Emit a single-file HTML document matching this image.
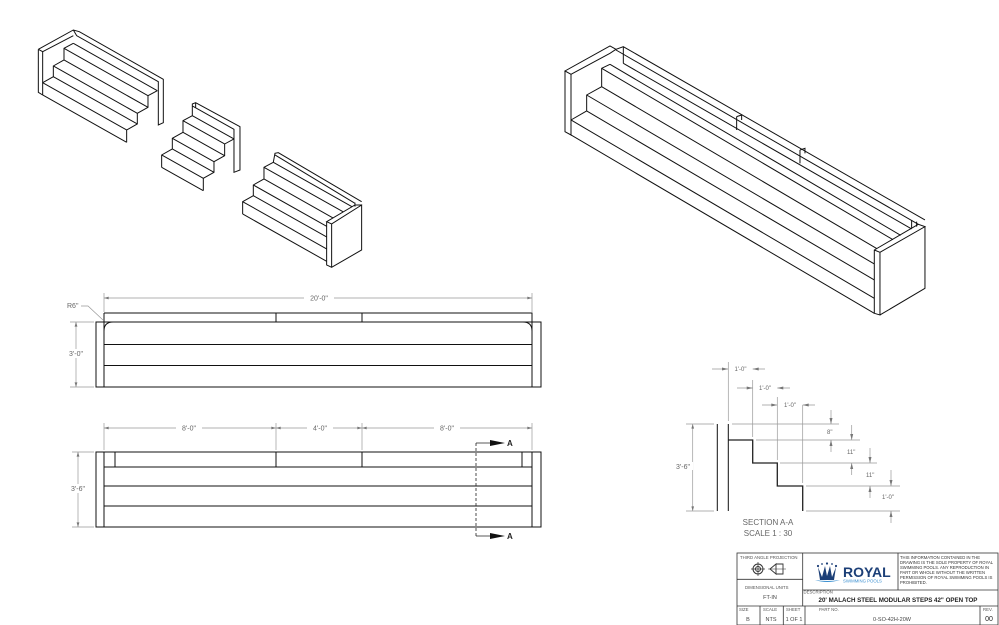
<!DOCTYPE html>
<html><head><meta charset="utf-8"><style>
html,body{margin:0;padding:0;background:#fff;}
svg{display:block;}
text{font-family:"Liberation Sans","DejaVu Sans",sans-serif;}
.o{stroke:#111;stroke-width:1;fill:none;vector-effect:non-scaling-stroke;}
.d{stroke:#999;stroke-width:0.7;fill:none;}
.t{fill:#666;font-size:7px;}
</style></head><body>
<svg width="999" height="625" viewBox="0 0 999 625" xmlns="http://www.w3.org/2000/svg">
<defs>
<marker id="ar" viewBox="0 0 10 6" refX="10" refY="3" markerWidth="8" markerHeight="4" orient="auto-start-reverse"><path d="M0,0L10,3L0,6z" fill="#777"/></marker>
</defs>
<rect width="999" height="625" fill="#fff"/>

<g transform="translate(30,20) scale(0.3333)">
<polyline class="o" points="38,225 38,188 70,170 70,138 102,120 102,85 130,70"/>
<polyline class="o" points="290,367 290,330 322,312 322,280 354,262 354,227 382,212"/>
<path class="o" d="M38,225L290,367M38,188L290,330M70,170L322,312M70,138L322,280M102,120L354,262M102,85L354,227M130,70L382,212"/>
<path class="o" d="M25,88L25,217L38,225M25,88L38,95L38,188M25,88L130,30L148,35L400,178L400,308L385,315L385,185L140,47L130,30M38,95L130,47"/>
<polyline class="o" points="395,442 395,405 427,387 427,355 459,337 459,302 487,287"/>
<polyline class="o" points="520,512 520,475 552,457 552,425 584,407 584,372 612,357"/>
<path class="o" d="M395,442L520,512M395,405L520,475M427,387L552,457M427,355L552,425M459,337L584,407M459,302L584,372M487,287L612,357"/>
<path class="o" d="M487,287L487,252L497,248L630,320L630,450L612,457L612,328L487,258M497,248L497,262"/>
<polyline class="o" points="638,582 638,545 670,527 670,495 702,477 702,442 730,427"/>
<path class="o" d="M638,582L890,724M638,545L890,687M670,527L890,651M670,495L890,619M702,477L909,594M702,442L939,575M730,427L966,560"/>
<path class="o" d="M730,427L735,400L745,398L995,545M735,405L975,550M890,605L890,735L905,742L995,690L995,555L905,612L890,605L975,555L995,555M905,612L905,742M975,548L975,560"/>
</g>

<g transform="translate(555,35) scale(0.3333)">
<path class="o" d="M30,108L30,290L48,300L48,118L30,108L165,33L183,43L205,35L1110,555M48,118L165,55L183,43M183,45L1090,568M205,35L205,85"/>
<polyline class="o" points="48,300 48,255 95,228 95,180 140,155 140,100 165,88"/>
<path class="o" d="M48,300L958,835M48,255L958,790M95,228L958,735M95,180L958,687M140,155L966,641M140,100L1014,614M165,88L1037,601M205,85L1070,582"/>
<path class="o" d="M545,245L545,285M545,245L560,240L560,255M735,345L735,385M735,345L750,340L750,355"/>
<path class="o" d="M958,645L975,652L975,840L958,835L958,645L1090,568L1110,575L975,652M1110,575L1110,760L975,840M1070,555L1070,580M1085,560L1085,575"/>
</g>

<rect class="o" x="96" y="322" width="445" height="65"/>
<path class="o" d="M104,322V387M532,322V387M104,313H532V322M104,313V322M276,313V322M362,313V322M104,344.5H532M104,365.5H532"/>
<path class="o" d="M104,331Q104,322 113,322M532,331Q532,322 523,322"/>
<path class="d" d="M104,293V312M532,293V312" />
<line class="d" x1="104" y1="298" x2="532" y2="298" marker-start="url(#ar)" marker-end="url(#ar)"/>
<rect x="304" y="294" width="30" height="8" fill="#fff"/>
<text class="t" x="319" y="300.5" text-anchor="middle">20'-0"</text>
<text class="t" x="67" y="308">R6"</text>
<path class="d" d="M81,306H88L103,320"/>
<path class="d" d="M70,322H94M70,387H94"/>
<line class="d" x1="76" y1="322" x2="76" y2="387" marker-start="url(#ar)" marker-end="url(#ar)"/>
<rect x="66" y="349" width="20" height="9" fill="#fff"/>
<text class="t" x="76" y="356" text-anchor="middle">3'-0"</text>

<rect class="o" x="96" y="452" width="445" height="75"/>
<path class="o" d="M104,452V527M532,452V527M104,467H532M115,452V467M522,452V467M276,452V467M362,452V467M104,486H532M104,506H532"/>
<path class="d" d="M104,423V450M276,423V450M362,423V450M532,423V450"/>
<line class="d" x1="104" y1="428" x2="276" y2="428" marker-start="url(#ar)" marker-end="url(#ar)"/>
<line class="d" x1="276" y1="428" x2="362" y2="428" marker-start="url(#ar)" marker-end="url(#ar)"/>
<line class="d" x1="362" y1="428" x2="532" y2="428" marker-start="url(#ar)" marker-end="url(#ar)"/>
<rect x="176" y="424" width="26" height="8" fill="#fff"/><text class="t" x="189" y="430.5" text-anchor="middle">8'-0"</text>
<rect x="307" y="424" width="26" height="8" fill="#fff"/><text class="t" x="320" y="430.5" text-anchor="middle">4'-0"</text>
<rect x="434" y="424" width="26" height="8" fill="#fff"/><text class="t" x="447" y="430.5" text-anchor="middle">8'-0"</text>
<path class="d" d="M72,452H94M72,527H94"/>
<line class="d" x1="78" y1="452" x2="78" y2="527" marker-start="url(#ar)" marker-end="url(#ar)"/>
<rect x="67" y="484" width="22" height="9" fill="#fff"/>
<text class="t" x="78" y="491" text-anchor="middle">3'-6"</text>
<path d="M476,443V536" stroke="#222" stroke-width="0.8" stroke-dasharray="3,2" fill="none"/>
<path d="M476,443H492M476,536H492" stroke="#222" stroke-width="0.8"/>
<path d="M490,440L505,443L490,446z M490,533L505,536L490,539z" fill="#111"/>
<text x="507" y="446" font-size="8" font-weight="bold" fill="#222">A</text>
<text x="507" y="539" font-size="8" font-weight="bold" fill="#222">A</text>

<path class="o" d="M717.3,424V511M728.3,424V511"/>
<polyline points="728.3,440 752.7,440 752.7,463 777.3,463 777.3,486 802.7,486 802.7,511" fill="none" stroke="#222" stroke-width="1.3"/>
<path class="d" d="M686,424H714M686,511H714M732,424H839M756,440H860M780,463H877M806,486H900M806,511H900M728.3,362V421M752.7,380V437M777.3,397V460M802.7,405V483"/>
<line class="d" x1="692.7" y1="424" x2="692.7" y2="511" marker-start="url(#ar)" marker-end="url(#ar)"/>
<rect x="675" y="462" width="18" height="8" fill="#fff"/>
<text class="t" x="683" y="469" text-anchor="middle">3'-6"</text>
<path class="d" d="M712,369H728M752.7,369H765M737,388H752.7M777.3,388H790M762,405H777.3M802.7,405H815"/>
<path d="M722,367.5L728,369L722,370.5zM758.7,367.5L752.7,369L758.7,370.5zM746.7,386.5L752.7,388L746.7,389.5zM783.3,386.5L777.3,388L783.3,389.5zM771.3,403.5L777.3,405L771.3,406.5zM808.7,403.5L802.7,405L808.7,406.5z" fill="#777"/>
<text class="t" style="font-size:6px" x="740.5" y="371" text-anchor="middle">1'-0"</text>
<text class="t" style="font-size:6px" x="765" y="390" text-anchor="middle">1'-0"</text>
<text class="t" style="font-size:6px" x="790" y="407" text-anchor="middle">1'-0"</text>
<path class="d" d="M831,410V424M831,440V452M851.7,425V440M851.7,463V475M870,448V463M870,486V498M891,470V486M891,511V523"/>
<path d="M829.5,418L831,424L832.5,418zM829.5,446L831,440L832.5,446zM850.2,434L851.7,440L853.2,434zM850.2,469L851.7,463L853.2,469zM868.5,457L870,463L871.5,457zM868.5,492L870,486L871.5,492zM889.5,480L891,486L892.5,480zM889.5,517L891,511L892.5,517z" fill="#777"/>
<text class="t" style="font-size:6px" x="827" y="434">8"</text>
<text class="t" style="font-size:6px" x="847" y="454">11"</text>
<text class="t" style="font-size:6px" x="866" y="477">11"</text>
<text class="t" style="font-size:6px" x="882" y="499">1'-0"</text>
<text x="768" y="525" font-size="8" fill="#666" text-anchor="middle" font-family="Liberation Mono,monospace">SECTION A-A</text>
<text x="768" y="536" font-size="8" fill="#666" text-anchor="middle" font-family="Liberation Mono,monospace">SCALE 1 : 30</text>

<g stroke="#333" stroke-width="0.8" fill="none">
<rect x="737" y="553" width="261" height="72"/>
<path d="M802.7,553V606M737,579.3H802.7M737,606H998M898,553V590M802.7,590H998M760,606V625M783.3,606V625M805,606V625M980,606V625"/>
</g>
<g font-size="4.3" fill="#555">
<text x="740" y="559">THIRD ANGLE PROJECTION</text>
<text x="745" y="589">DIMENSIONAL UNITS</text>
<text x="739" y="611">SIZE</text><text x="763" y="611">SCALE</text><text x="786" y="611">SHEET</text><text x="819" y="611">PART NO.</text><text x="983" y="611">REV.</text>
<text x="803.5" y="593.5">DESCRIPTION</text>
</g>
<g font-size="5.5" fill="#444" text-anchor="middle">
<text x="770" y="599">FT-IN</text>
<text x="748" y="621">B</text><text x="771" y="621">NTS</text><text x="794" y="621">1 OF 1</text>
<text x="892" y="621">0-SO-42H-20W</text>
</g>
<text x="989" y="621" font-size="7" fill="#222" text-anchor="middle">00</text>
<circle cx="758" cy="569" r="5" fill="none" stroke="#333" stroke-width="1"/>
<circle cx="758" cy="569" r="2.5" fill="none" stroke="#333" stroke-width="1"/>
<path d="M751,569H765M758,562V576" stroke="#333" stroke-width="0.7"/>
<path d="M770,569L776,564V574Z M776,564H783V574H776" fill="none" stroke="#333" stroke-width="0.9"/>
<path d="M768,569H786" stroke="#333" stroke-width="0.5"/>
<g font-size="4.2" fill="#333">
<text x="900" y="559">THIS INFORMATION CONTAINED IN THE</text>
<text x="900" y="564">DRAWING IS THE SOLE PROPERTY OF ROYAL</text>
<text x="900" y="569">SWIMMING POOLS. ANY REPRODUCTION IN</text>
<text x="900" y="574">PART OR WHOLE WITHOUT THE WRITTEN</text>
<text x="900" y="579">PERMISSION OF ROYAL SWIMMING POOLS IS</text>
<text x="900" y="584">PROHIBITED.</text>
</g>
<text x="898" y="602" font-size="6.2" font-weight="bold" fill="#222" text-anchor="middle" font-family="Liberation Mono,monospace">20' MALACH STEEL MODULAR STEPS 42" OPEN TOP</text>
<path d="M818,567L822,577L825,566L827,576L830,566L832,577L836,567L834,580H820Z" fill="#1c3f77"/>
<circle cx="818" cy="566" r="1.1" fill="#1c3f77"/><circle cx="836" cy="566" r="1.1" fill="#1c3f77"/><circle cx="827" cy="563.5" r="1.1" fill="#1c3f77"/><circle cx="822" cy="564" r="0.9" fill="#1c3f77"/><circle cx="832" cy="564" r="0.9" fill="#1c3f77"/>
<path d="M815,580Q827,584 840,580Q827,582 815,580Z" fill="#3a8fd0"/>
<text x="843" y="577" font-weight="bold" font-size="14" fill="#1c3f77">ROYAL</text>
<text x="843" y="582.5" font-size="4.3" fill="#3a8fd0">SWIMMING POOLS</text>
</svg>
</body></html>
